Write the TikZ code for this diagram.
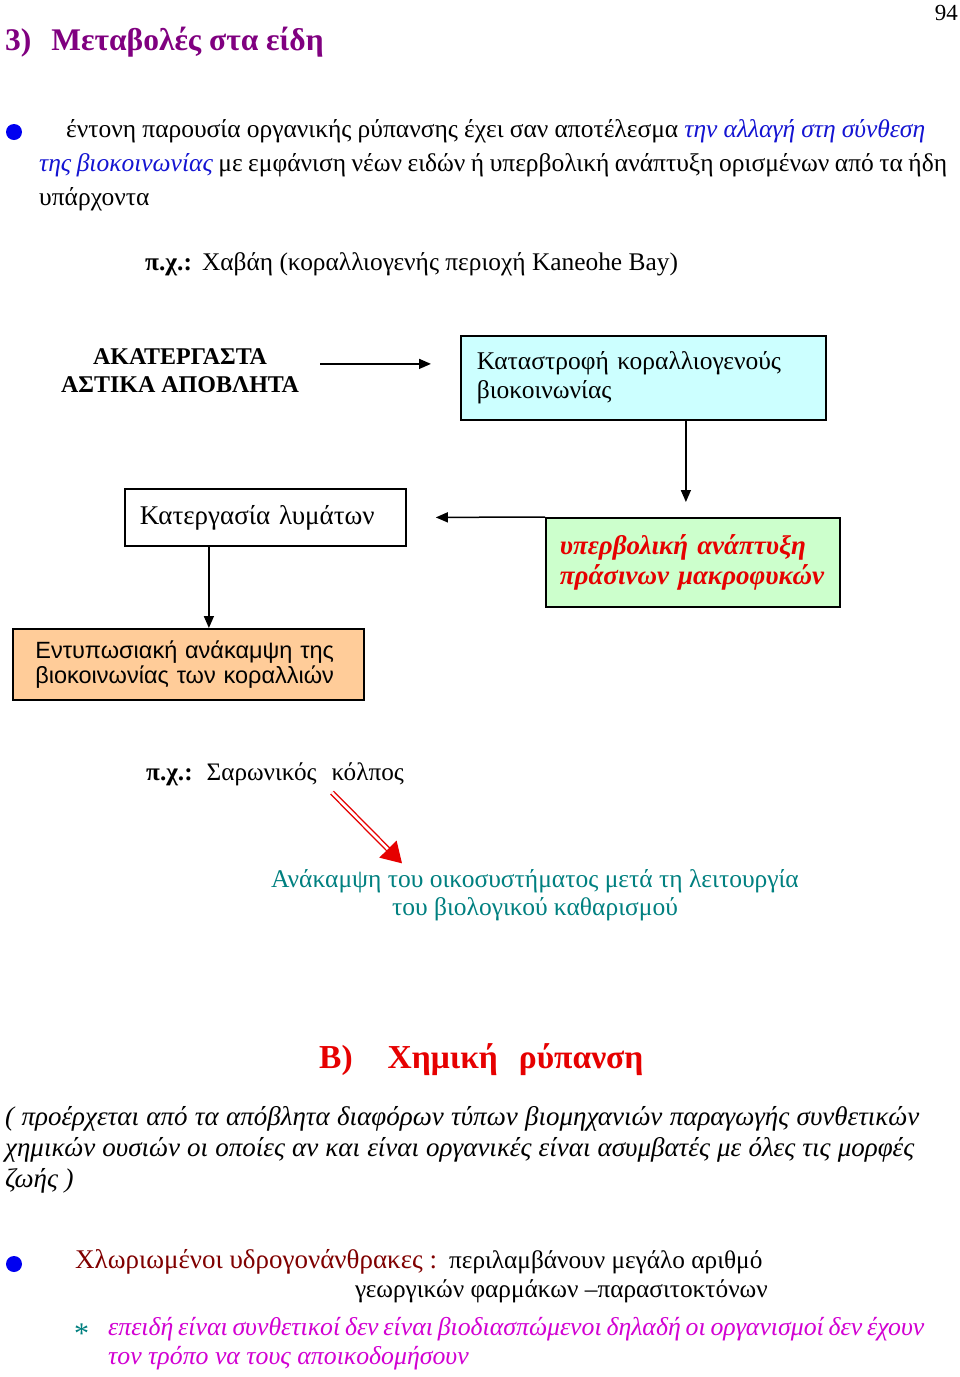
\documentclass[tikz,border=0pt]{standalone}
\usepackage{fontspec}
\setmainfont{Liberation Serif}
\newfontfamily\arialf{Liberation Sans}
\usetikzlibrary{arrows.meta}
\definecolor{titlepurple}{RGB}{128,0,128}
\definecolor{linkblue}{RGB}{20,20,210}
\definecolor{boxcyan}{RGB}{204,255,255}
\definecolor{boxgreen}{RGB}{204,255,204}
\definecolor{boxorange}{RGB}{255,204,153}
\definecolor{tealtxt}{RGB}{0,128,128}
\definecolor{darkredtxt}{RGB}{128,0,0}
\definecolor{magtxt}{RGB}{210,0,210}
\definecolor{redtxt}{RGB}{230,0,0}
\definecolor{bulletblue}{RGB}{0,0,240}
\newcommand{\fsz}[1]{\fontsize{#1}{#1}\selectfont}
\begin{document}
\begin{tikzpicture}[x=1pt,y=-1pt,
  txt/.style={anchor=base west,inner sep=0pt,font=\fsz{25.5}},
  bullet/.style={circle,fill=bulletblue,inner sep=0pt,minimum size=16pt},
  boxnode/.style={draw=black,line width=1.8pt,rectangle,anchor=north west,align=left,inner ysep=0pt},
  arr/.style={line width=1.5pt,-{Triangle[length=12pt,width=10pt]}}]
\useasboundingbox (0,0) rectangle (960,1377);
\fill[white] (0,0) rectangle (960,1377);

% page number and title
\node[anchor=base east,inner sep=0pt,font=\fsz{23}] (pagenum) at (958,20) {94};
\node[anchor=base west,inner sep=0pt,font=\fsz{31.5}\bfseries,text=titlepurple] (title) at (5,50) {3)\hspace{20pt}Μεταβολές στα είδη};

% first bullet paragraph
\node[bullet] (b1) at (14,132) {};
\node[txt] (p1) at (66,137) {\makebox[859pt][s]{έντονη παρουσία οργανικής ρύπανσης έχει σαν αποτέλεσμα \textcolor{linkblue}{\itshape την αλλαγή στη σύνθεση}}};
\node[txt] (p2) at (39,171) {\makebox[908pt][s]{\textcolor{linkblue}{\itshape της βιοκοινωνίας} με εμφάνιση νέων ειδών ή υπερβολική ανάπτυξη ορισμένων από τα ήδη}};
\node[txt] (p3) at (39,205) {υπάρχοντα};

\node[txt,font=\fsz{25.4}] (ex1) at (145,270) {\textbf{π.χ.:}\hspace{10pt}Χαβάη (κοραλλιογενής περιοχή Kaneohe Bay)};

% flow chart
\node[anchor=base,inner sep=0pt,font=\fsz{24}\bfseries,align=center] (akat) at (180,392) {ΑΚΑΤΕΡΓΑΣΤΑ\\[4pt]ΑΣΤΙΚΑ ΑΠΟΒΛΗΤΑ};

\node[boxnode,fill=boxcyan,minimum width=365pt,minimum height=84pt,text width=333pt,inner xsep=16pt,font=\fsz{25.5}] (cyan) at (460,335)
  {\mbox{Καταστροφή κοραλλιογενούς}\\[3pt]\mbox{βιοκοινωνίας}};

\node[boxnode,fill=white,minimum width=281pt,minimum height=57pt,text width=251pt,inner xsep=15pt,font=\fsz{27}] (white) at (124,488)
  {\mbox{Κατεργασία λυμάτων}};

\node[boxnode,fill=boxgreen,minimum width=294pt,minimum height=89pt,text width=266pt,inner xsep=14pt,font=\fsz{27}\bfseries\itshape,text=redtxt] (green) at (545,517)
  {\mbox{υπερβολική ανάπτυξη}\\[3pt]\mbox{πράσινων μακροφυκών}};

\node[boxnode,fill=boxorange,minimum width=351pt,minimum height=71pt,text width=306pt,inner xsep=22.5pt,font=\arialf\fsz{23.5}] (orange) at (12,628)
  {\makebox[306pt][s]{Εντυπωσιακή ανάκαμψη της}\\[2pt]\makebox[306pt][s]{βιοκοινωνίας των κοραλλιών}};

\draw[arr] ([xshift=-140pt,yshift=14pt]cyan.west) -- ([xshift=-29pt,yshift=14pt]cyan.west);
\draw[arr] ([xshift=42.5pt]cyan.south) -- ([xshift=-7pt,yshift=15pt]green.north);
\draw[arr] (green.north west) -- ([xshift=29pt]white.east);
\draw[arr] ([xshift=-56.5pt]white.south) -- ([xshift=20.5pt]orange.north);

% second example
\node[txt,font=\fsz{25.2}] (ex2) at (146,780) {\textbf{π.χ.:}\hspace{14pt}Σαρωνικός\hspace{15pt}κόλπος};
\node[anchor=base,inner sep=0pt,font=\fsz{25.5},text=tealtxt,align=center] (recov) at (535,915)
  {Ανάκαμψη του οικοσυστήματος μετά τη λειτουργία\\[2pt]του βιολογικού καθαρισμού};
\draw[redtxt,line width=1.4pt,double=white,double distance=2.6pt,-{Triangle[length=20pt,width=24pt]}]
  ([xshift=186pt,yshift=-7pt]ex2.south west) -- ([xshift=-133pt,yshift=6pt]recov.north);

% section B
\node[anchor=base west,inner sep=0pt,font=\fsz{33.5}\bfseries,text=redtxt] (secB) at (319,1068) {Β)\hspace{35pt}Χημική\hspace{21pt}ρύπανση};

\node[txt,font=\fsz{27}\itshape] (q1) at (5,1125) {\makebox[914pt][s]{( προέρχεται από τα απόβλητα διαφόρων τύπων βιομηχανιών παραγωγής συνθετικών}};
\node[txt,font=\fsz{27}\itshape] (q2) at (5,1156) {\makebox[909pt][s]{χημικών ουσιών οι οποίες αν και είναι οργανικές είναι ασυμβατές με όλες τις μορφές}};
\node[txt,font=\fsz{27}\itshape] (q3) at (5,1187) {ζωής )};

\node[bullet] (b2) at (14,1264) {};
\node[txt,font=\fsz{25.3}] (c1) at (75,1268) {\textcolor{darkredtxt}{\fsz{27}Χλωριωμένοι υδρογονάνθρακες :}\hspace{12pt}περιλαμβάνουν μεγάλο αριθμό};
\node[anchor=base east,inner sep=0pt,font=\fsz{25.3}] (c2) at (768,1297) {γεωργικών φαρμάκων –παρασιτοκτόνων};

\node[anchor=base west,inner sep=0pt,font=\fsz{30},text=tealtxt] (ast) at (74,1343) {*};
\node[txt,font=\fsz{25.8}\itshape,text=magtxt] (m1) at (108,1335) {\makebox[816pt][s]{επειδή είναι συνθετικοί δεν είναι βιοδιασπώμενοι δηλαδή οι οργανισμοί δεν έχουν}};
\node[txt,font=\fsz{25.8}\itshape,text=magtxt] (m2) at (108,1364) {τον τρόπο να τους αποικοδομήσουν};
\end{tikzpicture}
\end{document}
